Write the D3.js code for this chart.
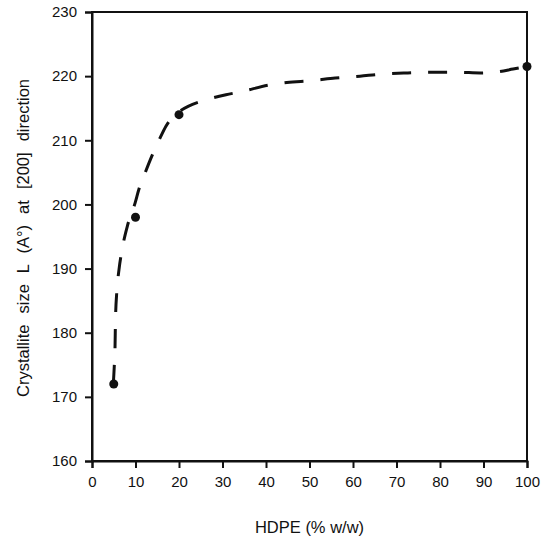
<!DOCTYPE html>
<html>
<head>
<meta charset="utf-8">
<script src="https://cdn.jsdelivr.net/npm/d3@7"></script>
<style>
  body { margin: 0; background: #fff; }
  text { font-family: "Liberation Sans", Arial, sans-serif; fill: #111; }
</style>
</head>
<body>
<div id="viz"></div>
<script>
// measured points
var hdpe = [5, 10, 20, 100];
var size = [172, 198, 214, 221.5];

// dashed trend curve
var curveX = [4.9, 5.1, 5.3, 5.4, 5.7, 6.2, 6.9, 8.2, 9.9, 10.8, 12.2, 13.8, 15.4, 17.0, 18.8, 20.5, 22.1, 25.7, 30.8, 34.5, 40.5, 44.8, 50.6, 55.9, 61.6, 66.4, 72.6, 77.2, 84.1, 89.2, 93.6, 96.8, 100];
var curveY = [172, 174.5, 178, 182, 186.4, 189.8, 192.9, 196.8, 200.2, 202.4, 204.9, 207.6, 210.0, 212.2, 213.8, 214.7, 215.3, 216.2, 217.1, 217.6, 218.6, 219.0, 219.3, 219.7, 220.0, 220.3, 220.5, 220.6, 220.6, 220.5, 220.7, 221.1, 221.5];

var xTicks = [0, 10, 20, 30, 40, 50, 60, 70, 80, 90, 100];
var yTicks = [160, 170, 180, 190, 200, 210, 220, 230];

var width = 554, height = 544;
var margin = { top: 12, right: 27, bottom: 83, left: 92 };

var svg = d3.select("#viz")
    .append("svg")
    .attr("width", width)
    .attr("height", height);

var xScale = d3.scaleLinear()
    .domain([0, 100])
    .range([margin.left, width - margin.right]);
var yScale = d3.scaleLinear()
    .domain([160, 230])
    .range([height - margin.bottom, margin.top]);

// frame (top and right plain lines)
svg.append("rect")
    .attr("x", xScale(0))
    .attr("y", yScale(230))
    .attr("width", xScale(100) - xScale(0))
    .attr("height", yScale(160) - yScale(230))
    .attr("fill", "none")
    .attr("stroke", "#111")
    .attr("stroke-width", 2);

var xAxis = svg.append("g")
    .attr("transform", "translate(0," + yScale(160) + ")")
    .call(d3.axisBottom(xScale).tickValues(xTicks).tickSize(7).tickPadding(8));
var yAxis = svg.append("g")
    .attr("transform", "translate(" + xScale(0) + ",0)")
    .call(d3.axisLeft(yScale).tickValues(yTicks).tickSize(7).tickPadding(8));

[xAxis, yAxis].forEach(function (ax) {
    ax.select(".domain").attr("stroke", "#111").attr("stroke-width", 2);
    ax.selectAll(".tick line").attr("stroke", "#111").attr("stroke-width", 2);
    ax.selectAll(".tick text")
        .attr("font-size", 15)
        .attr("font-family", "Liberation Sans, Arial, sans-serif")
        .attr("fill", "#111");
});

var curve = curveX.map(function (d, i) { return { x: d, y: curveY[i] }; });
var line = d3.line()
    .x(function (d) { return xScale(d.x); })
    .y(function (d) { return yScale(d.y); })
    .curve(d3.curveMonotoneX);

svg.append("path")
    .datum(curve)
    .attr("d", line)
    .attr("fill", "none")
    .attr("stroke", "#111")
    .attr("stroke-width", 3)
    .attr("stroke-dasharray", "19,17");

svg.selectAll("circle.pt")
    .data(hdpe)
    .enter()
    .append("circle")
    .attr("class", "pt")
    .attr("cx", function (d) { return xScale(d); })
    .attr("cy", function (d, i) { return yScale(size[i]); })
    .attr("r", 4.5)
    .attr("fill", "#111");

// axis titles
svg.append("text")
    .attr("x", (xScale(0) + xScale(100)) / 2)
    .attr("y", 533)
    .attr("text-anchor", "middle")
    .attr("font-size", 16.5)
    .text("HDPE (% w/w)");

var yTitle = svg.append("text")
    .attr("transform", "translate(29,238) rotate(-90)")
    .attr("text-anchor", "middle")
    .attr("font-size", 16.5)
    .text("Crystallite size L (A\u00B0) at [200] direction");
// spread the words out to the length of the original title
var natural = yTitle.node().getComputedTextLength();
yTitle.attr("word-spacing", Math.max(0, (318 - natural) / 6));
</script>
</body>
</html>
